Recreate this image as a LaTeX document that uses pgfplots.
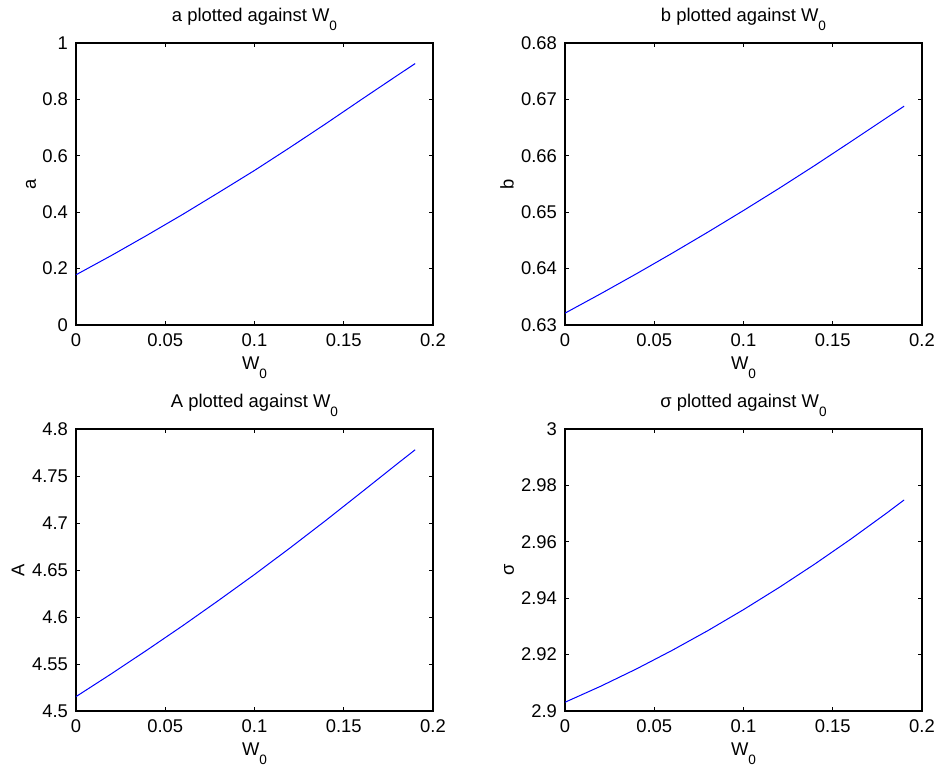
\documentclass[border=0pt]{standalone}
\usepackage{pgfplots}
\pgfplotsset{compat=1.18}
\usepackage{fontspec}
\setmainfont{Liberation Sans}
\newcommand{\Wsub}{W\raisebox{-4.4pt}{\fontsize{6.8}{8}\selectfont 0}}
\pgfplotsset{
  every axis title shift=0pt,
  mystyle/.style={
    scale only axis, width=178.5pt, height=141pt, anchor=south west,
    xmin=0, xmax=0.2,
    xtick={0,0.05,0.1,0.15,0.2},
    xticklabels={0,0.05,0.1,0.15,0.2},
    tick align=inside, xtick pos=both, ytick pos=both,
    major tick length=2pt,
    axis line style={line width=0.6pt},
    every tick/.style={black, line width=0.4pt},
    tick label style={font=\fontsize{9.2}{11}\selectfont},
    label style={font=\fontsize{9.2}{11}\selectfont},
    title style={font=\fontsize{9.2}{11}\selectfont, at={(0.5,1)}, anchor=base, yshift=10.8pt},
    xlabel={\Wsub},
    xlabel style={at={(rel axis cs:0.5,0)}, anchor=base, yshift=-22.5pt},
    xticklabel style={yshift=-1pt},
    yticklabel style={xshift=-0.5pt},
    scaled ticks=false,
    /pgf/number format/assume math mode=true,
  }
}
\begin{document}
\begin{tikzpicture}
\useasboundingbox (0,0) rectangle (469.5pt,386pt);
% top-left
\begin{axis}[mystyle, at={(38pt,223.5pt)},
  ymin=0, ymax=1, ytick={0,0.2,0.4,0.6,0.8,1},
  yticklabels={0,0.2,0.4,0.6,0.8,1},
  title={a plotted against \Wsub},
  ylabel={a}, ylabel style={at={(rel axis cs:0,0.5)}, anchor=center, yshift=22.5pt}]
\addplot[blue, line width=0.5pt] coordinates {
(0,0.178) (0.02,0.247) (0.04,0.319) (0.06,0.393) (0.08,0.470) (0.10,0.548)
(0.12,0.630) (0.14,0.714) (0.16,0.800) (0.18,0.885) (0.19,0.927)};
\end{axis}
% top-right
\begin{axis}[mystyle, at={(282.5pt,223.5pt)},
  ymin=0.63, ymax=0.68, ytick={0.63,0.64,0.65,0.66,0.67,0.68},
  yticklabels={0.63,0.64,0.65,0.66,0.67,0.68},
  title={b plotted against \Wsub},
  ylabel={b}, ylabel style={at={(rel axis cs:0,0.5)}, anchor=center, yshift=29pt}]
\addplot[blue, line width=0.5pt] coordinates {
(0,0.6321) (0.02,0.63554) (0.04,0.63908) (0.06,0.64272) (0.08,0.64646) (0.10,0.6503)
(0.12,0.65424) (0.14,0.65830) (0.16,0.66248) (0.18,0.66670) (0.19,0.6688)};
\end{axis}
% bottom-left
\begin{axis}[mystyle, at={(38pt,30.5pt)},
  ymin=4.5, ymax=4.8, ytick={4.5,4.55,4.6,4.65,4.7,4.75,4.8},
  yticklabels={4.5,4.55,4.6,4.65,4.7,4.75,4.8},
  title={A plotted against \Wsub},
  ylabel={A}, ylabel style={at={(rel axis cs:0,0.5)}, anchor=center, yshift=29pt}]
\addplot[blue, line width=0.5pt] coordinates {
(0,4.5153) (0.02,4.5398) (0.04,4.5651) (0.06,4.5910) (0.08,4.6178) (0.10,4.6452)
(0.12,4.6736) (0.14,4.7028) (0.16,4.7328) (0.18,4.7630) (0.19,4.7779)};
\end{axis}
% bottom-right
\begin{axis}[mystyle, at={(282.5pt,30.5pt)},
  ymin=2.9, ymax=3, ytick={2.9,2.92,2.94,2.96,2.98,3},
  yticklabels={2.9,2.92,2.94,2.96,2.98,3},
  title={σ plotted against \Wsub},
  ylabel={σ}, ylabel style={at={(rel axis cs:0,0.5)}, anchor=center, yshift=28pt}]
\addplot[blue, line width=0.5pt] coordinates {
(0,2.9031) (0.02,2.90878) (0.04,2.91491) (0.06,2.92149) (0.08,2.92849) (0.10,2.93594)
(0.12,2.94382) (0.14,2.95214) (0.16,2.96090) (0.18,2.97009) (0.19,2.97485)};
\end{axis}
\end{tikzpicture}
\end{document}
